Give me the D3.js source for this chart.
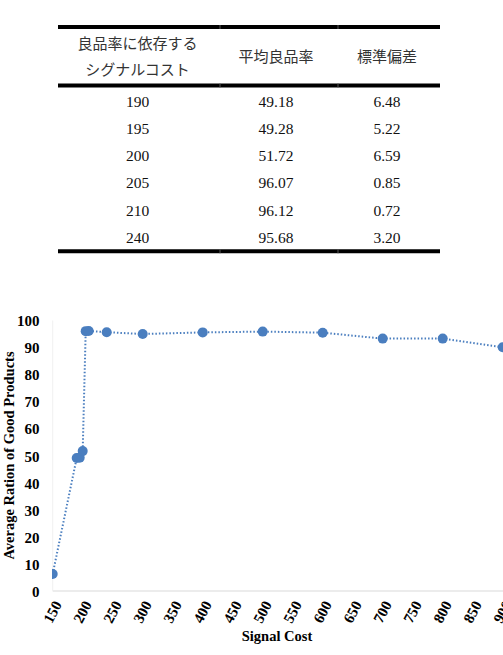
<!DOCTYPE html>
<html><head><meta charset="utf-8">
<script src="https://cdn.jsdelivr.net/npm/d3@7"></script>
<style>body{margin:0;background:#fff;}svg{display:block;}</style>
</head><body>
<svg id="c" width="503" height="655"></svg>
<script>
// Table data
const tableHeader1 = ["良品率に依存する", "シグナルコスト"];
const tableHeaders = ["平均良品率", "標準偏差"];
const tableCost = [190, 195, 200, 205, 210, 240];
const tableMean = ["49.18", "49.28", "51.72", "96.07", "96.12", "95.68"];
const tableSd = ["6.48", "5.22", "6.59", "0.85", "0.72", "3.20"];

// Chart data
const signalCost = [150, 190, 195, 200, 205, 210, 240, 300, 400, 500, 600, 700, 800, 900];
const avgRatio = [6.3, 49.18, 49.28, 51.72, 96.07, 96.12, 95.68, 95.0, 95.6, 95.9, 95.5, 93.3, 93.3, 90.1];
const xTicks = d3.range(150, 901, 50);
const yTicks = d3.range(0, 101, 10);

const svg = d3.select("#c");
const blue = "#4a7ebf";

// ---- Table ----
const colX = [137.5, 276, 387];
const tbl = svg.append("g");
[27, 85.5, 251.3].forEach(y => {
  tbl.append("line").attr("x1", 58).attr("x2", 440).attr("y1", y).attr("y2", y)
    .attr("stroke", "#000").attr("stroke-width", 4);
  [220, 338].forEach(gx => {
    tbl.append("line").attr("x1", gx).attr("x2", gx).attr("y1", y - 2).attr("y2", y + 2)
      .attr("stroke", "#555").attr("stroke-width", 1);
  });
});
const jp = "'Noto Sans CJK JP', sans-serif";
tbl.append("text").attr("x", colX[0]).attr("y", 43.5).attr("dy", "0.35em").attr("text-anchor", "middle")
  .attr("font-family", jp).attr("font-size", 15).attr("fill", "#333").text(tableHeader1[0]);
tbl.append("text").attr("x", colX[0]).attr("y", 70).attr("dy", "0.35em").attr("text-anchor", "middle")
  .attr("font-family", jp).attr("font-size", 15).attr("fill", "#333").text(tableHeader1[1]);
tableHeaders.forEach((h, i) => {
  tbl.append("text").attr("x", colX[i + 1]).attr("y", 57).attr("dy", "0.35em").attr("text-anchor", "middle")
    .attr("font-family", jp).attr("font-size", 15).attr("fill", "#333").text(h);
});
const rowY = d3.scaleLinear().domain([0, 5]).range([101.7, 237.3]);
tableCost.forEach((c, i) => {
  [c, tableMean[i], tableSd[i]].forEach((v, j) => {
    tbl.append("text").attr("x", colX[j]).attr("y", rowY(i)).attr("dy", "0.35em")
      .attr("text-anchor", "middle").attr("font-family", "'Liberation Serif', serif")
      .attr("font-size", 15.5).attr("fill", "#111").text(v);
  });
});

// ---- Chart ----
const x = d3.scaleLinear().domain([150, 900]).range([52.7, 502.7]);
const y = d3.scaleLinear().domain([0, 100]).range([591, 320.5]);
const serif = "'Liberation Serif', 'Times New Roman', serif";

// axes lines
svg.append("line").attr("x1", x(150)).attr("x2", 503).attr("y1", y(0)).attr("y2", y(0))
  .attr("stroke", "#d9d9d9").attr("stroke-width", 1);
svg.append("line").attr("x1", x(150)).attr("x2", x(150)).attr("y1", y(0)).attr("y2", y(100))
  .attr("stroke", "#f0f0f0").attr("stroke-width", 1);

// y tick labels
const yAxis = d3.axisLeft(y).tickValues(yTicks).tickSize(0).tickPadding(0);
const gy = svg.append("g").attr("transform", `translate(39.5,0)`).call(yAxis);
gy.select(".domain").remove();
gy.selectAll("text").attr("font-family", serif).attr("font-weight", "bold")
  .attr("font-size", 15).attr("fill", "#000").attr("dy", "0.35em");

// x tick labels
const xAxis = d3.axisBottom(x).tickValues(xTicks).tickSize(0).tickPadding(0);
const gx = svg.append("g").call(xAxis);
gx.select(".domain").remove();
gx.selectAll(".tick").attr("transform", d => `translate(${x(d) + 5},602)`);
gx.selectAll("text").attr("font-family", serif).attr("font-weight", "bold")
  .attr("font-size", 15).attr("fill", "#000")
  .attr("x", 0).attr("y", 0).attr("dy", "0.35em")
  .attr("text-anchor", "end").attr("transform", "rotate(-62)");

// axis titles
svg.append("text").attr("x", 277).attr("y", 641).attr("text-anchor", "middle")
  .attr("font-family", serif).attr("font-weight", "bold").attr("font-size", 14.5).text("Signal Cost");
svg.append("text").attr("transform", "translate(13.5,455.5) rotate(-90)").attr("text-anchor", "middle")
  .attr("font-family", serif).attr("font-weight", "bold").attr("font-size", 14.5)
  .text("Average Ration of Good Products");

// clip
svg.append("clipPath").attr("id", "plot").append("rect")
  .attr("x", 52).attr("y", 300).attr("width", 460).attr("height", 300);

const line = d3.line().x((d, i) => x(signalCost[i])).y(d => y(d));
const pg = svg.append("g").attr("clip-path", "url(#plot)");
pg.append("path").datum(avgRatio).attr("d", line).attr("fill", "none")
  .attr("stroke", blue).attr("stroke-width", 2).attr("stroke-dasharray", "1.5,2");
pg.selectAll("circle").data(avgRatio).enter().append("circle")
  .attr("cx", (d, i) => x(signalCost[i])).attr("cy", d => y(d)).attr("r", 5)
  .attr("fill", blue);
</script>
</body></html>
